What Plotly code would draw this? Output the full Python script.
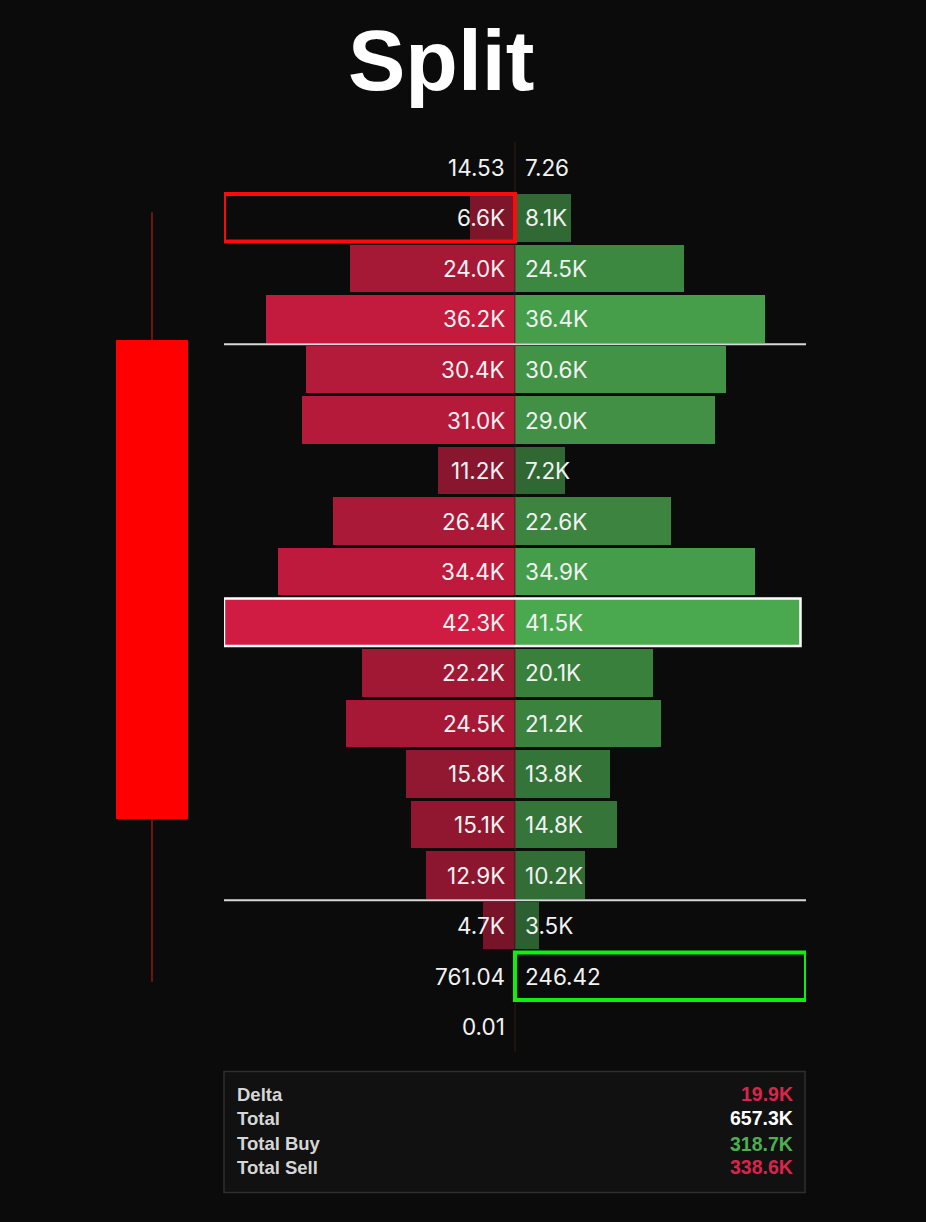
import plotly.graph_objects as go

# ---------------- data ----------------
# price rows, top to bottom (row level 17 = top)
row_levels = [17, 16, 15, 14, 13, 12, 11, 10, 9, 8, 7, 6, 5, 4, 3, 2, 1, 0]
sell_volume = [14.53, 6600, 24000, 36200, 30400, 31000, 11200, 26400, 34400,
               42300, 22200, 24500, 15800, 15100, 12900, 4700, 761.04, 0.01]
buy_volume = [7.26, 8100, 24500, 36400, 30600, 29000, 7200, 22600, 34900,
              41500, 20100, 21200, 13800, 14800, 10200, 3500, 246.42, None]

# candle (in row-level units)
candle_open = 13.58
candle_high = 16.11
candle_low = 0.89
candle_close = 4.10

# value area bounds (row-level units)
value_area_high = 13.5
value_area_low = 2.5

# highlighted cells
highlight_sell_level = 16   # red box
poc_level = 8               # white box
highlight_buy_level = 1     # green box

title_text = "Split"
summary_labels = ["Delta", "Total", "Total Buy", "Total Sell"]
summary_values = ["19.9K", "657.3K", "318.7K", "338.6K"]

# ---------------- styling ----------------
BG = "#0b0b0b"
RED = (208, 28, 66)
GREEN = (74, 168, 79)
BG_RGB = (11, 11, 11)


def fmt(v):
    if v is None:
        return ""
    if v >= 1000:
        return f"{v / 1000:.1f}K"
    return f"{v:.2f}"


def shade(base, v, vmax):
    if v is None or v < 1000:
        return "rgba(0,0,0,0)"
    a = 0.5 + 0.5 * v / vmax
    c = [round(BG_RGB[k] + a * (base[k] - BG_RGB[k])) for k in range(3)]
    return f"rgb({c[0]},{c[1]},{c[2]})"


sell_k = [v / 1000 for v in sell_volume]
buy_k = [(v or 0) / 1000 for v in buy_volume]
max_sell = max(sell_volume)
max_buy = max(v for v in buy_volume if v is not None)
xmax = max(max_sell, max_buy) / 1000

sell_colors = [shade(RED, v, max_sell) for v in sell_volume]
buy_colors = [shade(GREEN, v, max_buy) for v in buy_volume]

fig = go.Figure()

# footprint bars
fig.add_trace(go.Bar(
    y=row_levels, x=[-v for v in sell_k], orientation="h",
    marker=dict(color=sell_colors, line=dict(width=0)), width=0.94,
    hoverinfo="skip", xaxis="x", yaxis="y"))
fig.add_trace(go.Bar(
    y=row_levels, x=buy_k, orientation="h",
    marker=dict(color=buy_colors, line=dict(width=0)), width=0.94,
    hoverinfo="skip", xaxis="x", yaxis="y"))

# candle: wick segments then body
body_top = max(candle_open, candle_close)
body_bot = min(candle_open, candle_close)
fig.add_trace(go.Scatter(
    x=[0, 0, None, 0, 0], y=[candle_high, body_top, None, body_bot, candle_low],
    mode="lines", line=dict(color="#8e1b14", width=1.5), hoverinfo="skip",
    xaxis="x2", yaxis="y"))
fig.add_trace(go.Bar(
    x=[0], y=[candle_open - candle_close], base=[candle_close],
    width=1.16, marker=dict(color="#ff0000", line=dict(width=0)),
    hoverinfo="skip", xaxis="x2", yaxis="y"))

# labels
annotations = []
for lvl, s, b in zip(row_levels, sell_volume, buy_volume):
    annotations.append(dict(
        x=0, y=lvl, xref="x", yref="y", text=fmt(s), showarrow=False,
        xanchor="right", yanchor="middle", xshift=-8,
        font=dict(family="Inter", size=22.5, color="#f2f2f2")))
    if b is not None:
        annotations.append(dict(
            x=0, y=lvl, xref="x", yref="y", text=fmt(b), showarrow=False,
            xanchor="left", yanchor="middle", xshift=8,
            font=dict(family="Inter", size=22.5, color="#f2f2f2")))

# title
annotations.append(dict(
    x=0.5107, y=1.0905, xref="paper", yref="paper", text=f"<b>{title_text}</b>",
    showarrow=False, xanchor="center", yanchor="middle",
    font=dict(family="Liberation Sans", size=86, color="#ffffff")))

# summary panel
summary_colors = ["#d9254c", "#ffffff", "#4caf50", "#d9254c"]
summary_y = [-0.0467, -0.0730, -0.1006, -0.1269]
for lab, val, col, yy in zip(summary_labels, summary_values, summary_colors, summary_y):
    annotations.append(dict(
        x=0.2345, y=yy, xref="paper", yref="paper", text=f"<b>{lab}</b>",
        showarrow=False, xanchor="left", yanchor="middle",
        font=dict(family="Liberation Sans", size=18.5, color="#d6d6d6")))
    annotations.append(dict(
        x=0.9855, y=yy, xref="paper", yref="paper", text=f"<b>{val}</b>",
        showarrow=False, xanchor="right", yanchor="middle",
        font=dict(family="Liberation Sans", size=19.5, color=col)))

shapes = [
    # center divider
    dict(type="line", xref="x", yref="y", x0=0, x1=0, y0=-0.5, y1=17.5,
         line=dict(color="#2a1b16", width=1.5), layer="below"),
    dict(type="line", xref="x", yref="y", x0=0, x1=0, y0=-0.5, y1=17.5,
         line=dict(color="rgba(20,12,10,0.55)", width=1), layer="above"),
    # value area lines
    dict(type="line", xref="x", yref="y", x0=-xmax, x1=xmax,
         y0=value_area_high, y1=value_area_high, line=dict(color="#d8d8d8", width=2)),
    dict(type="line", xref="x", yref="y", x0=-xmax, x1=xmax,
         y0=value_area_low, y1=value_area_low, line=dict(color="#d8d8d8", width=2)),
    # red highlight box (sell side)
    dict(type="rect", xref="x", yref="y", x0=-xmax, x1=0,
         y0=highlight_sell_level - 0.47, y1=highlight_sell_level + 0.47,
         line=dict(color="#ff0a0a", width=4), fillcolor="rgba(0,0,0,0)"),
    # POC white box
    dict(type="rect", xref="x", yref="y",
         x0=-sell_volume[row_levels.index(poc_level)] / 1000,
         x1=buy_volume[row_levels.index(poc_level)] / 1000,
         y0=poc_level - 0.47, y1=poc_level + 0.47,
         line=dict(color="#ffffff", width=2.5), fillcolor="rgba(0,0,0,0)"),
    # green highlight box (buy side)
    dict(type="rect", xref="x", yref="y", x0=0, x1=xmax,
         y0=highlight_buy_level - 0.47, y1=highlight_buy_level + 0.47,
         line=dict(color="#0ef10e", width=4), fillcolor="rgba(0,0,0,0)"),
    # summary panel
    dict(type="rect", xref="paper", yref="paper", x0=0.2198, x1=0.9987,
         y0=-0.1543, y1=-0.0214, line=dict(color="#2f2f2f", width=1.5),
         fillcolor="#111111", layer="below"),
]

axis_off = dict(showgrid=False, zeroline=False, showticklabels=False,
                showline=False, ticks="", fixedrange=True)

fig.update_layout(
    width=926, height=1222,
    paper_bgcolor=BG, plot_bgcolor=BG,
    margin=dict(l=60, r=120, t=141.7, b=169.5),
    showlegend=False, barmode="overlay", bargap=0,
    xaxis=dict(domain=[0.2198, 1.0], range=[-xmax, xmax], **axis_off),
    xaxis2=dict(domain=[0.0402, 0.2064], range=[-1, 1], anchor="y", **axis_off),
    yaxis=dict(range=[-0.5, 17.5], **axis_off),
    annotations=annotations, shapes=shapes,
)

fig.write_html(
    "out.html",
    config={"displayModeBar": False},
    post_script="document.body.style.margin='0';"
                "document.body.style.background='#0b0b0b';"
                "document.body.style.overflow='hidden';",
)
